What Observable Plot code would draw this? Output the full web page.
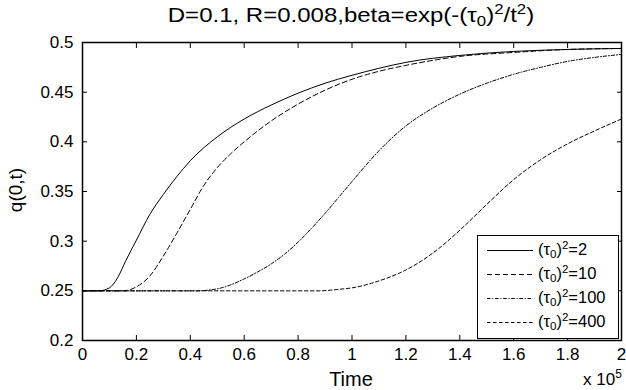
<!DOCTYPE html>
<html>
<head>
<meta charset="utf-8">
<script src="https://cdn.jsdelivr.net/npm/d3@7"></script>
<script src="https://cdn.jsdelivr.net/npm/@observablehq/plot@0.6"></script>
<style>
  html, body { margin: 0; padding: 0; background: #fff; }
  #wrap { position: relative; width: 626px; height: 390px; font-family: "Liberation Sans", Arial, sans-serif; color: #000; }
  #wrap svg { position: absolute; left: 0; top: 0; }
  .ov { position: absolute; white-space: nowrap; line-height: 1; }
  .sb { font-size: 70%; position: relative; top: 0.3em; }
  .sp { font-size: 70%; position: relative; top: -0.55em; }
  #legend { position: absolute; left: 477px; top: 235px; width: 140px; height: 102px; border: 1px solid #000; background: #fff; }
  #legend .row { position: absolute; left: 0; height: 20px; }
  #legend svg { position: absolute; left: 9px; top: 0; }
  #legend .lab { position: absolute; left: 60px; top: 0px; font-size: 16.5px; white-space: nowrap; line-height: 1; }
</style>
</head>
<body>
<div id="wrap"></div>
<script>
// ---- data (time in units of 1e5) ----
const seriesNames = ["2", "10", "100", "400"];
const t2   = [0, 0.06, 0.1, 0.13, 0.16, 0.2, 0.25, 0.3, 0.35, 0.4, 0.5, 0.6, 0.7, 0.8, 0.9, 1.0, 1.1, 1.2, 1.4, 1.6, 1.8, 2.0];
const q2   = [0.25, 0.25, 0.253, 0.263, 0.28, 0.301, 0.327, 0.347, 0.365, 0.381, 0.405, 0.423, 0.437, 0.449, 0.459, 0.467, 0.474, 0.48, 0.487, 0.491, 0.493, 0.494];
const t10  = [0, 0.15, 0.18, 0.2, 0.25, 0.3, 0.35, 0.4, 0.45, 0.5, 0.55, 0.6, 0.7, 0.8, 0.9, 1.0, 1.1, 1.2, 1.3, 1.4, 1.6, 1.8, 2.0];
const q10  = [0.25, 0.25, 0.2515, 0.254, 0.265, 0.285, 0.308, 0.332, 0.356, 0.374, 0.388, 0.4, 0.421, 0.438, 0.452, 0.463, 0.471, 0.477, 0.482, 0.486, 0.49, 0.493, 0.494];
const t100 = [0, 0.42, 0.5, 0.55, 0.6, 0.65, 0.7, 0.75, 0.8, 0.85, 0.9, 0.95, 1.0, 1.05, 1.1, 1.2, 1.3, 1.4, 1.5, 1.6, 1.7, 1.8, 1.9, 2.0];
const q100 = [0.25, 0.25, 0.252, 0.256, 0.262, 0.269, 0.277, 0.287, 0.299, 0.313, 0.328, 0.344, 0.36, 0.376, 0.391, 0.416, 0.434, 0.448, 0.459, 0.468, 0.475, 0.481, 0.485, 0.488];
const t400 = [0, 0.88, 0.95, 1.0, 1.1, 1.2, 1.3, 1.4, 1.5, 1.6, 1.7, 1.8, 1.9, 2.0];
const q400 = [0.25, 0.25, 0.2515, 0.253, 0.26, 0.271, 0.288, 0.311, 0.337, 0.362, 0.382, 0.398, 0.411, 0.423];
const xTicks = [0, 0.2, 0.4, 0.6, 0.8, 1, 1.2, 1.4, 1.6, 1.8, 2];
const yTicks = [0.2, 0.25, 0.3, 0.35, 0.4, 0.45, 0.5];

const dashes = ["none", "5,3", "3.5,1.8,1,1.8", "3.5,2.5"];
const series = [[t2, q2], [t10, q10], [t100, q100], [t400, q400]].map(([ts, qs], i) =>
  ts.map((t, j) => ({t, q: qs[j], s: seriesNames[i]})));

const fmtX = d => String(+d.toFixed(1));
const fmtY = d => String(+d.toFixed(2));

const chart = Plot.plot({
  width: 626, height: 390,
  marginLeft: 82, marginRight: 5, marginTop: 42, marginBottom: 50,
  style: {fontFamily: "Liberation Sans, Arial, sans-serif", fontSize: "17px", color: "#000", background: "transparent"},
  x: {domain: [0, 2]},
  y: {domain: [0.2, 0.5]},
  marks: [
    ...series.map((data, i) => Plot.line(data, {x: "t", y: "q", stroke: "#000", strokeWidth: 1, strokeDasharray: dashes[i] === "none" ? null : dashes[i], curve: "monotone-x"})),
    Plot.frame({stroke: "#000", strokeWidth: 1.5}),
    Plot.axisX(xTicks, {anchor: "bottom", tickSize: -5, tickPadding: 12, tickFormat: fmtX, label: null}),
    Plot.axisX(xTicks, {anchor: "top", tickSize: -5, tickFormat: () => "", label: null}),
    Plot.axisY(yTicks, {anchor: "left", tickSize: -5, tickPadding: 14, tickFormat: fmtY, label: null}),
    Plot.axisY(yTicks, {anchor: "right", tickSize: -5, tickFormat: () => "", label: null})
  ]
});
const wrap = document.getElementById("wrap");
wrap.appendChild(chart);

function add(html, css) {
  const d = document.createElement("div");
  d.className = "ov";
  d.innerHTML = html;
  Object.assign(d.style, css);
  wrap.appendChild(d);
  return d;
}
// title
add('D=0.1, R=0.008,beta=exp(-(τ<span class="sb">0</span>)<span class="sp">2</span>/t<span class="sp">2</span>)',
    {left: "351px", top: "5px", fontSize: "20px", transform: "translateX(-50%) scaleX(1.2)"});
// axis labels
add("Time", {left: "351px", top: "369px", fontSize: "20px", transform: "translateX(-50%)"});
add('x 10<span class="sp">5</span>', {left: "583px", top: "371px", fontSize: "17px"});
add("q(0,t)", {left: "15px", top: "190px", fontSize: "19px", transform: "translate(-50%,-50%) rotate(-90deg)"});

// legend
const leg = document.createElement("div");
leg.id = "legend";
wrap.appendChild(leg);
const rowTops = [5, 29, 53, 77];
seriesNames.forEach((name, i) => {
  const r = document.createElement("div");
  r.className = "row";
  r.style.top = rowTops[i] + "px";
  r.style.width = "140px";
  const dash = dashes[i] === "none" ? "" : ` stroke-dasharray="${dashes[i]}"`;
  r.innerHTML = `<svg width="48" height="20"><line x1="0" x2="46" y1="9.5" y2="9.5" stroke="#000" stroke-width="1"${dash}/></svg>` +
    `<span class="lab">(τ<span class="sb">0</span>)<span class="sp">2</span>=${name}</span>`;
  leg.appendChild(r);
});
</script>
</body>
</html>
